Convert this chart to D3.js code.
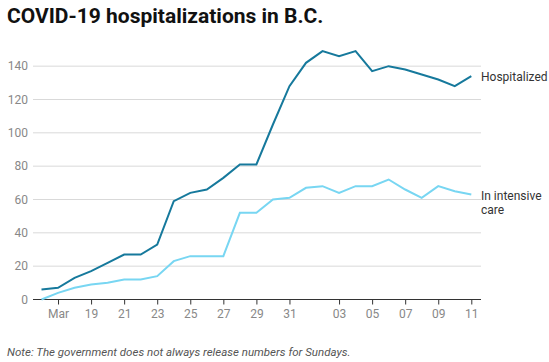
<!DOCTYPE html>
<html>
<head>
<meta charset="utf-8">
<script src="https://cdn.jsdelivr.net/npm/d3@7"></script>
<style>
  body { margin: 0; background: #fff; font-family: Roboto, "Noto Sans", sans-serif; }
</style>
</head>
<body>
<script>
const w = 549;
const h = 362;

// daily figures, Mar 16 to Apr 11
const startDay = "2020-03-16";
const hospitalized = [6, 7, 13, 17, 22, 27, 27, 33, 59, 64, 66, 73, 81, 81, 105, 128,
                      142, 149, 146, 149, 137, 140, 138, 135, 132, 128, 134];
const intensiveCare = [0, 4, 7, 9, 10, 12, 12, 14, 23, 26, 26, 26, 52, 52, 60, 61,
                       67, 68, 64, 68, 68, 72, 66, 61, 68, 65, 63];
const xTickDays = ["2020-03-17", "2020-03-19", "2020-03-21", "2020-03-23", "2020-03-25",
                   "2020-03-27", "2020-03-29", "2020-03-31", "2020-04-03", "2020-04-05",
                   "2020-04-07", "2020-04-09", "2020-04-11"];
const yTicks = [0, 20, 40, 60, 80, 100, 120, 140];

const parse = d3.timeParse("%Y-%m-%d");
const start = parse(startDay);
const days = hospitalized.map((v, i) => d3.timeDay.offset(start, i));

const x = d3.scaleTime()
  .domain([start, days[days.length - 1]])
  .range([41.5, 471.3]);
const y = d3.scaleLinear().domain([0, 150]).range([299.5, 49.5]);

const svg = d3.select("body").append("svg")
  .attr("width", w)
  .attr("height", h);

svg.append("text")
  .attr("x", 7).attr("y", 23)
  .style("font-size", "21px").style("font-weight", "bold").style("fill", "#111")
  .text("COVID-19 hospitalizations in B.C.");

// grid
svg.append("g")
  .selectAll("line")
  .data(yTicks.slice(1))
  .enter().append("line")
  .attr("x1", 33).attr("x2", 481)
  .attr("y1", d => y(d)).attr("y2", d => y(d))
  .style("stroke", "#d9d9d9").style("stroke-width", 1);

// y labels
svg.append("g")
  .selectAll("text")
  .data(yTicks)
  .enter().append("text")
  .attr("x", 28).attr("y", d => y(d) + 4)
  .attr("text-anchor", "end")
  .style("font-size", "12px").style("fill", "#888")
  .text(d => d);

// x axis
const xAxis = d3.axisBottom(x)
  .tickValues(xTickDays.map(parse))
  .tickSize(5)
  .tickPadding(5)
  .tickFormat(d => d.getDate() === 17 ? "Mar" : d3.timeFormat("%d")(d));

const gx = svg.append("g")
  .attr("transform", `translate(0,${y(0)})`)
  .call(xAxis);
gx.select(".domain").remove();
gx.selectAll(".tick line").style("stroke", "#333");
gx.selectAll(".tick text")
  .style("font-family", "Roboto, sans-serif")
  .style("font-size", "12px").style("fill", "#888");
gx.append("line")
  .attr("x1", 33).attr("x2", 481)
  .style("stroke", "#333").style("stroke-width", 1);

const line = d3.line()
  .x((d, i) => x(days[i]))
  .y(d => y(d));

svg.append("path")
  .datum(intensiveCare)
  .attr("d", line)
  .style("fill", "none").style("stroke", "#78d6f2").style("stroke-width", 2);

svg.append("path")
  .datum(hospitalized)
  .attr("d", line)
  .style("fill", "none").style("stroke", "#16799c").style("stroke-width", 2);

// series labels
svg.append("text")
  .attr("x", 481).attr("y", y(hospitalized[hospitalized.length - 1]) + 5)
  .style("font-size", "12px").style("fill", "#333")
  .text("Hospitalized");

const icuLabel = svg.append("text")
  .attr("x", 481).attr("y", y(intensiveCare[intensiveCare.length - 1]) + 5)
  .style("font-size", "12px").style("fill", "#333");
icuLabel.append("tspan").attr("x", 481).text("In intensive");
icuLabel.append("tspan").attr("x", 481).attr("dy", 14).text("care");

svg.append("text")
  .attr("x", 7).attr("y", 356)
  .style("font-size", "11.5px").style("font-style", "italic").style("fill", "#555")
  .text("Note: The government does not always release numbers for Sundays.");
</script>
</body>
</html>
